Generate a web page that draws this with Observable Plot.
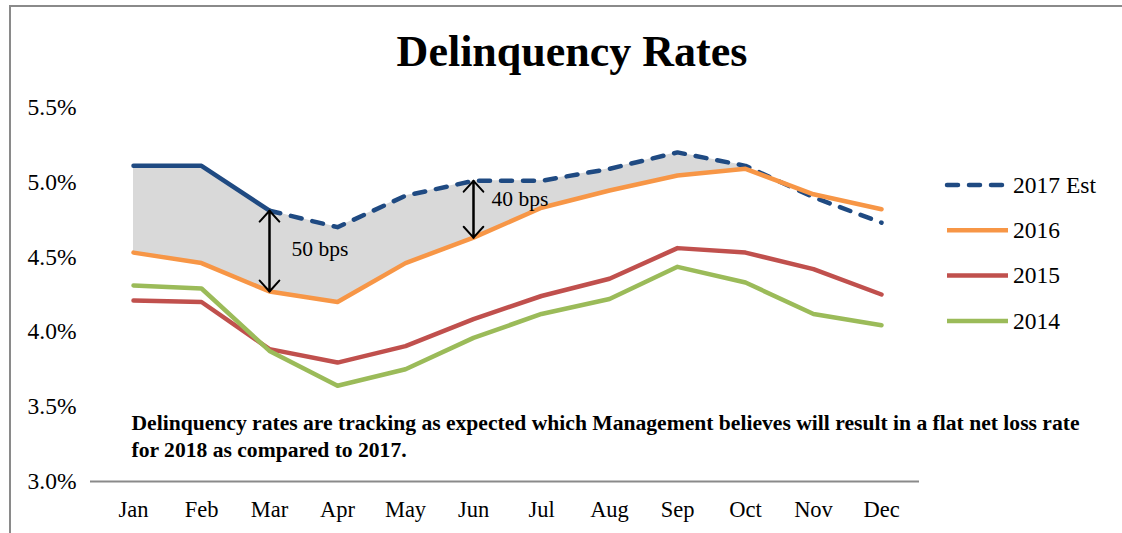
<!DOCTYPE html>
<html><head><meta charset="utf-8">
<script src="https://cdn.jsdelivr.net/npm/d3@7"></script>
<script src="https://cdn.jsdelivr.net/npm/@observablehq/plot@0.6"></script>
<style>
body{margin:0;background:#fff;}
#wrap{position:relative;width:1122px;height:533px;overflow:hidden;font-family:"Liberation Serif","Times New Roman",serif;background:#fff;}
#frame{position:absolute;left:9px;top:5px;width:1200px;height:600px;border-top:2px solid #8a8a8a;border-left:2px solid #8a8a8a;}
#title{position:absolute;left:0;width:1144px;top:30px;line-height:44px;text-align:center;font-weight:bold;font-size:44px;color:#000;}
#chart{position:absolute;left:0;top:0;}
#legend{position:absolute;left:930px;top:155px;}
</style></head>
<body>
<div id="wrap">
  <div id="frame"></div>
  <div id="chart"></div>
  <div id="title">Delinquency Rates</div>
  <div id="legend"></div>
</div>
<script>
const months = ["Jan","Feb","Mar","Apr","May","Jun","Jul","Aug","Sep","Oct","Nov","Dec"];
const est2017 = [5.11,5.11,4.81,4.70,4.91,5.01,5.01,5.09,5.20,5.11,4.90,4.73];
const s2016 = [4.53,4.46,4.27,4.20,4.46,4.63,4.83,4.945,5.045,5.09,4.92,4.82];
const s2015 = [4.21,4.20,3.885,3.795,3.905,4.085,4.24,4.355,4.56,4.53,4.42,4.25];
const s2014 = [4.31,4.29,3.873,3.64,3.75,3.96,4.12,4.22,4.435,4.33,4.12,4.045];
const yTicks = [3.0,3.5,4.0,4.5,5.0,5.5];
const seriesNames = ["2017 Est","2016","2015","2014"];
const seriesColors = ["#1f4a82","#f79646","#c0504d","#9bbb59"];
const note = "Delinquency rates are tracking as expected which Management believes will result in a flat net loss rate\nfor 2018 as compared to 2017.";

const rows = months.map((m,i)=>({month:m, i, v2017:est2017[i], v2016:s2016[i], v2015:s2015[i], v2014:s2014[i]}));
const arrowRows = ["Mar","Jun"].map(m=>{const i=months.indexOf(m); return {month:m, top:est2017[i], bot:s2016[i]};});

const serif = "'Liberation Serif','Times New Roman',serif";
const chart = Plot.plot({
  width:1122, height:533,
  marginTop:107, marginBottom:52, marginLeft:95, marginRight:203,
  style:{fontFamily:serif, fontSize:"22px", color:"#000", background:"transparent"},
  x:{type:"point", domain:months, padding:0.5, label:null},
  y:{domain:[3,5.5], label:null},
  marks:[
    Plot.areaY(rows.filter(d=>d.i<=9), {x:"month", y1:"v2016", y2:"v2017", fill:"#d9d9d9", curve:"linear"}),
    Plot.ruleY([3], {stroke:"#8a8a8a", strokeWidth:2, insetLeft:-5}),
    Plot.line(rows.filter(d=>d.i<=2), {x:"month", y:"v2017", stroke:seriesColors[0], strokeWidth:4.5, strokeLinejoin:"round", strokeLinecap:"round"}),
    Plot.line(rows.filter(d=>d.i>=2), {x:"month", y:"v2017", stroke:seriesColors[0], strokeWidth:4.5, strokeDasharray:"11,11", strokeLinejoin:"round", strokeLinecap:"round"}),
    Plot.line(rows, {x:"month", y:"v2016", stroke:seriesColors[1], strokeWidth:4.5, strokeLinejoin:"round", strokeLinecap:"round"}),
    Plot.line(rows, {x:"month", y:"v2015", stroke:seriesColors[2], strokeWidth:4.5, strokeLinejoin:"round", strokeLinecap:"round"}),
    Plot.line(rows, {x:"month", y:"v2014", stroke:seriesColors[3], strokeWidth:4.5, strokeLinejoin:"round", strokeLinecap:"round"}),
    Plot.arrow(arrowRows, {x1:"month", x2:"month", y1:"bot", y2:"top", stroke:"#000", strokeWidth:2, headLength:11, headAngle:84}),
    Plot.arrow(arrowRows, {x1:"month", x2:"month", y1:"top", y2:"bot", stroke:"#000", strokeWidth:2, headLength:11, headAngle:84}),
    Plot.text([arrowRows[0]], {x:"month", y:d=>(d.top+d.bot)/2, text:()=>"50 bps", dx:22, dy:-2, textAnchor:"start", fontSize:21.5, fill:"#000"}),
    Plot.text([arrowRows[1]], {x:"month", y:d=>d.top-0.12, text:()=>"40 bps", dx:18, textAnchor:"start", fontSize:21.5, fill:"#000"}),
    Plot.text([note], {x:()=>"Jan", y:()=>3.31, text:d=>d, dx:-2, textAnchor:"start", lineAnchor:"middle", lineHeight:1.25, fontSize:21.6, fontWeight:"bold", fill:"#000"}),
    Plot.axisY({ticks:yTicks, tickFormat:d=>d.toFixed(1)+"%", tickSize:0, tickPadding:19, fontSize:23.5, label:null}),
    Plot.axisX({tickSize:0, tickPadding:20, fontSize:22.5, label:null})
  ]
});
document.getElementById("chart").appendChild(chart);

// legend
const lg = d3.select("#legend").append("svg").attr("width",190).attr("height",200);
seriesNames.forEach((name,k)=>{
  const cy = 30 + k*45.3;
  lg.append("line").attr("x1",17).attr("x2",78).attr("y1",cy).attr("y2",cy)
    .attr("stroke",seriesColors[k]).attr("stroke-width",4.5)
    .attr("stroke-linecap", k===0 ? "round" : "butt")
    .attr("stroke-dasharray", k===0 ? "11,11" : null);
  lg.append("text").attr("x",83).attr("y",cy).attr("dy","0.33em")
    .attr("font-family",serif).attr("font-size",23.5).attr("fill","#000").text(name);
});
</script>
</body></html>
